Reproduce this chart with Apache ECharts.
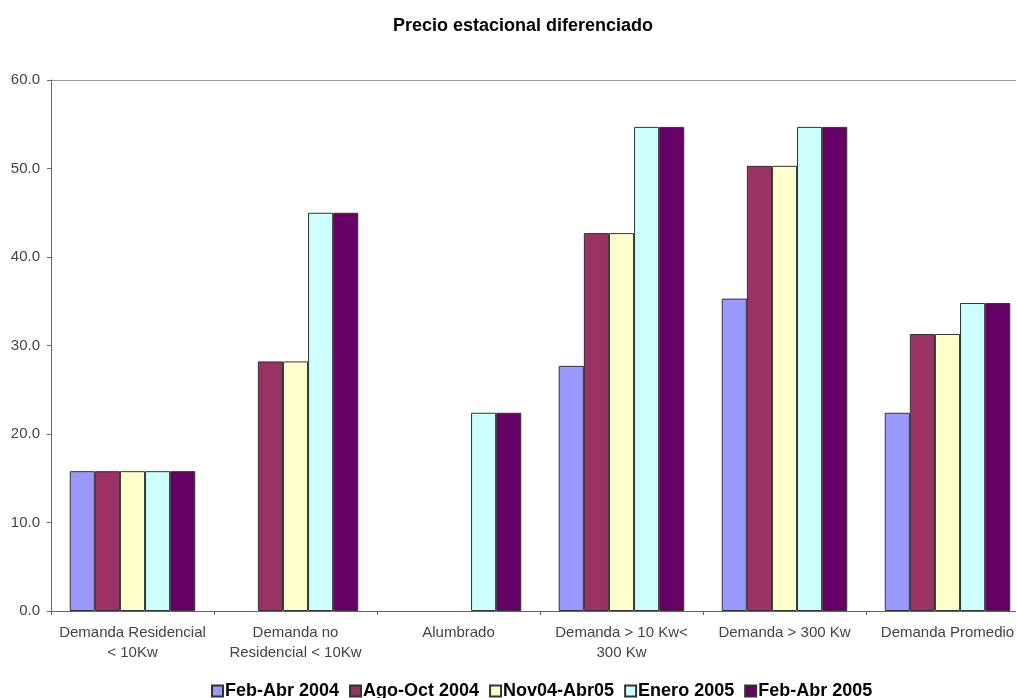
<!DOCTYPE html>
<html>
<head>
<meta charset="utf-8">
<script src="https://cdn.jsdelivr.net/npm/echarts@6/dist/echarts.min.js"></script>
<style>
  html, body { margin: 0; padding: 0; background: #fff; }
  #chart { width: 1016px; height: 698px; }
</style>
</head>
<body>
<div id="chart"></div>
<script>
// Tariff categories (x axis)
const categories = [
  'Demanda Residencial\n< 10Kw',
  'Demanda no\nResidencial < 10Kw',
  'Alumbrado',
  'Demanda > 10 Kw<\n300 Kw',
  'Demanda > 300 Kw',
  'Demanda Promedio'
];

// Seasonal prices per period (null = no value for that category)
const febAbr2004 = [15.8, null, null, 27.7, 35.3, 22.4];
const agoOct2004 = [15.8, 28.2, null, 42.7, 50.3, 31.3];
const nov04Abr05 = [15.8, 28.2, null, 42.7, 50.3, 31.3];
const enero2005  = [15.8, 45.0, 22.4, 54.7, 54.7, 34.8];
const febAbr2005 = [15.8, 45.0, 22.4, 54.7, 54.7, 34.8];

const seriesNames = ['Feb-Abr 2004', 'Ago-Oct 2004', 'Nov04-Abr05', 'Enero 2005', 'Feb-Abr 2005'];
const seriesData = [febAbr2004, agoOct2004, nov04Abr05, enero2005, febAbr2005];
const seriesColors = ['#9999FF', '#993366', '#FFFFCC', '#CCFFFF', '#660066'];

const FONT = '"Liberation Sans", Arial, sans-serif';

const chart = echarts.init(document.getElementById('chart'), null, { renderer: 'canvas' });

chart.setOption({
  backgroundColor: '#ffffff',
  animation: false,
  title: {
    text: 'Precio estacional diferenciado',
    left: 388,
    top: 12,
    textStyle: { fontFamily: FONT, fontSize: 18, fontWeight: 'bold', color: '#000' }
  },
  legend: {
    data: seriesNames,
    left: 206,
    bottom: -7,
    itemWidth: 11,
    itemHeight: 11,
    itemGap: 10,
    icon: 'rect',
    textStyle: { fontFamily: FONT, fontSize: 18, fontWeight: 'bold', color: '#000', padding: [0, 0, 0, -3] }
  },
  // plot area runs a little past the right edge of the canvas
  grid: { left: 51, top: 80, width: 978, height: 531, containLabel: false, outerBoundsMode: 'none' },
  xAxis: {
    type: 'category',
    data: categories,
    axisLine: { show: true, lineStyle: { color: '#666', width: 1 } },
    axisTick: { show: true, alignWithLabel: false, length: 4, lineStyle: { color: '#666' } },
    axisLabel: {
      fontFamily: FONT, fontSize: 15, color: '#444', margin: 12, lineHeight: 20, interval: 0
    }
  },
  yAxis: {
    type: 'value',
    min: 0,
    max: 60,
    interval: 10,
    axisLine: { show: true, lineStyle: { color: '#666', width: 1 } },
    axisTick: { show: true, length: 4, lineStyle: { color: '#666' } },
    axisLabel: {
      fontFamily: FONT, fontSize: 15, color: '#444', margin: 11,
      formatter: v => v.toFixed(1)
    },
    splitLine: {
      show: true,
      lineStyle: {
        color: ['transparent', 'transparent', 'transparent', 'transparent', 'transparent', 'transparent', '#999'],
        width: 1
      }
    }
  },
  series: seriesNames.map((name, i) => ({
    name: name,
    type: 'bar',
    data: seriesData[i],
    barGap: '0%',
    barCategoryGap: '23%',
    itemStyle: { color: seriesColors[i], borderColor: '#333', borderWidth: 1 }
  }))
});
</script>
</body>
</html>
